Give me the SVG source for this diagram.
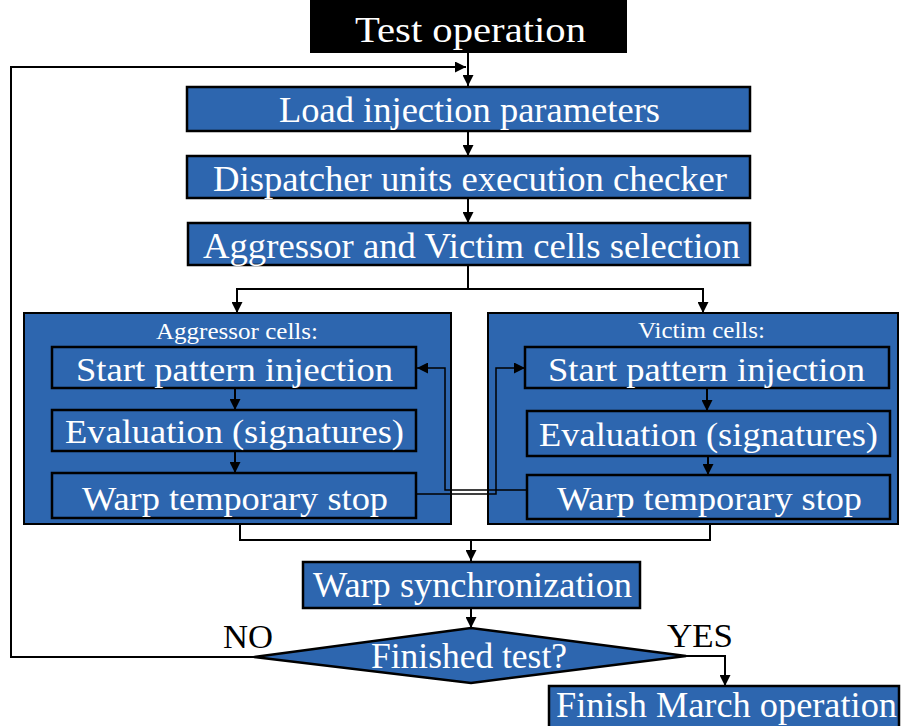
<svg xmlns="http://www.w3.org/2000/svg" width="901" height="726" viewBox="0 0 901 726">
  <style>
    .box { fill: #2D66AF; stroke: #000; stroke-width: 2.5; }
    .panel { fill: #2D66AF; stroke: #000; stroke-width: 2; }
    .start { fill: #000; stroke: #000; stroke-width: 2; }
    .t { font-family: "Liberation Serif", "Times New Roman", serif; fill: #fff; }
    .big { font-size: 36px; }
    .mid { font-size: 34px; }
    .small { font-size: 23px; }
    .lbl { font-family: "Liberation Serif", "Times New Roman", serif; font-size: 34px; fill: #000; }
    .wire { fill: none; stroke: #000; stroke-width: 2; }
    .thin { fill: none; stroke: #000; stroke-width: 1.5; }
  </style>
  <defs>
    <marker id="arrow" viewBox="0 0 10 10" refX="10" refY="5" markerUnits="userSpaceOnUse" markerWidth="12" markerHeight="11" orient="auto">
      <path d="M0,0 L10,5 L0,10 z" fill="#000"/>
    </marker>
  </defs>

  <rect width="901" height="726" fill="#fff"/>

  <g id="test-operation">
    <rect class="start" x="311" y="1" width="315" height="51"/>
    <text class="t big" x="355" y="42" font-size="38" textLength="231" lengthAdjust="spacingAndGlyphs">Test operation</text>
  </g>

  <g id="load-params">
    <rect class="box" x="187" y="87" width="563" height="44"/>
    <text class="t big" x="279" y="122" textLength="381" lengthAdjust="spacingAndGlyphs">Load injection parameters</text>
  </g>

  <g id="dispatcher">
    <rect class="box" x="187" y="156" width="563" height="42"/>
    <text class="t big" x="213" y="191" textLength="514" lengthAdjust="spacingAndGlyphs">Dispatcher units execution checker</text>
  </g>

  <g id="selection">
    <rect class="box" x="188" y="223" width="562" height="42"/>
    <text class="t big" x="203" y="258" textLength="537" lengthAdjust="spacingAndGlyphs">Aggressor and Victim cells selection</text>
  </g>

  <g id="aggressor-panel">
    <rect class="panel" x="24" y="313" width="427" height="211"/>
    <text class="t small" x="156" y="339" textLength="162" lengthAdjust="spacingAndGlyphs">Aggressor cells:</text>
  </g>
  <g id="aggressor-start">
    <rect class="box" x="52" y="347" width="364" height="41"/>
    <text class="t mid" x="76" y="381" textLength="317" lengthAdjust="spacingAndGlyphs">Start pattern injection</text>
  </g>
  <g id="aggressor-eval">
    <rect class="box" x="52" y="410" width="364" height="41"/>
    <text class="t mid" x="65" y="443" textLength="339" lengthAdjust="spacingAndGlyphs">Evaluation (signatures)</text>
  </g>
  <g id="aggressor-stop">
    <rect class="box" x="52" y="473" width="364" height="45"/>
    <text class="t mid" x="82" y="510" textLength="306" lengthAdjust="spacingAndGlyphs">Warp temporary stop</text>
  </g>

  <g id="victim-panel">
    <rect class="panel" x="488" y="313" width="410" height="211"/>
    <text class="t small" x="638" y="338" textLength="127" lengthAdjust="spacingAndGlyphs">Victim cells:</text>
  </g>
  <g id="victim-start">
    <rect class="box" x="525" y="347" width="364" height="41"/>
    <text class="t mid" x="548" y="381" textLength="317" lengthAdjust="spacingAndGlyphs">Start pattern injection</text>
  </g>
  <g id="victim-eval">
    <rect class="box" x="527" y="411" width="363" height="45"/>
    <text class="t mid" x="539" y="446" textLength="339" lengthAdjust="spacingAndGlyphs">Evaluation (signatures)</text>
  </g>
  <g id="victim-stop">
    <rect class="box" x="527" y="475" width="363" height="44"/>
    <text class="t mid" x="557" y="510" textLength="305" lengthAdjust="spacingAndGlyphs">Warp temporary stop</text>
  </g>

  <g id="warp-sync">
    <rect class="box" x="303" y="562" width="337" height="46"/>
    <text class="t big" x="313" y="597" textLength="319" lengthAdjust="spacingAndGlyphs">Warp synchronization</text>
  </g>

  <g id="finished-test">
    <polygon class="box" points="254,657 471,628 686,656 471,683"/>
    <text class="t big" x="371" y="668" textLength="196" lengthAdjust="spacingAndGlyphs">Finished test?</text>
    <text class="lbl" x="223" y="648" textLength="50" lengthAdjust="spacingAndGlyphs">NO</text>
    <text class="lbl" x="667" y="647" textLength="66" lengthAdjust="spacingAndGlyphs">YES</text>
  </g>

  <g id="finish-march">
    <rect class="box" x="549" y="686" width="350" height="42"/>
    <text class="t big" x="556" y="717" textLength="341" lengthAdjust="spacingAndGlyphs">Finish March operation</text>
  </g>

  <g id="connectors">
    <!-- main column -->
    <path class="wire" d="M468,53 L468,86" marker-end="url(#arrow)"/>
    <path class="wire" d="M468,131 L468,156" marker-end="url(#arrow)"/>
    <path class="wire" d="M468,198 L468,223" marker-end="url(#arrow)"/>
    <!-- split to the two panels -->
    <path class="wire" d="M468,265 L468,289"/>
    <path class="wire" d="M469,289 L237,289 L237,313" marker-end="url(#arrow)"/>
    <path class="wire" d="M467,289 L703,289 L703,313" marker-end="url(#arrow)"/>
    <!-- aggressor inner flow -->
    <path class="wire" d="M235,389 L235,410" marker-end="url(#arrow)"/>
    <path class="wire" d="M235,452 L235,473" marker-end="url(#arrow)"/>
    <!-- victim inner flow -->
    <path class="wire" d="M707,389 L707,411" marker-end="url(#arrow)"/>
    <path class="wire" d="M708,457 L708,475" marker-end="url(#arrow)"/>
    <!-- cross links between the two panels -->
    <path class="thin" d="M527,490 L445,490 L445,368 L417,368" marker-end="url(#arrow)"/>
    <path class="thin" d="M417,494 L496,494 L496,368 L525,368" marker-end="url(#arrow)"/>
    <!-- join below the panels -->
    <path class="wire" d="M240,525 L240,540 L710,540 L710,525"/>
    <path class="wire" d="M471,540 L471,561" marker-end="url(#arrow)"/>
    <path class="wire" d="M471,609 L471,628" marker-end="url(#arrow)"/>
    <!-- YES branch -->
    <path class="wire" d="M686,656 L725,656 L725,686" marker-end="url(#arrow)"/>
    <!-- NO loop back -->
    <path class="wire" d="M254,657 L11,657 L11,67 L466,67" marker-end="url(#arrow)"/>
  </g>
</svg>
